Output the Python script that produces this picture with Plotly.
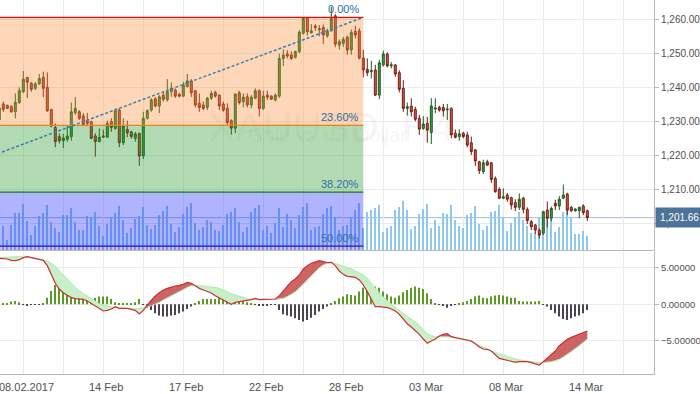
import plotly.graph_objects as go

# ---------------- data ----------------
opens = [1230.4,1235.1,1234.7,1234.3,1232.8,1235.5,1238.7,1242.9,1241.2,1239.7,
         1241.0,1242.9,1240.0,1233.5,1228.2,1225.5,1224.3,1224.7,1225.5,1232.5,
         1232.8,1231.6,1230.2,1229.9,1225.7,1224.0,1225.7,1225.3,1229.9,1227.9,
         1233.3,1223.7,1227.6,1226.9,1225.0,1226.5,1219.8,1230.9,1233.3,1236.6,
         1234.5,1237.7,1236.3,1238.7,1239.2,1237.9,1237.4,1240.2,1241.9,1239.0,
         1235.3,1234.8,1234.1,1236.8,1238.5,1237.7,1235.1,1233.8,1230.2,1228.0,
         1238.4,1235.8,1237.2,1234.8,1236.8,1239.0,1233.8,1237.7,1237.4,1236.3,
         1237.4,1248.5,1249.8,1249.5,1248.8,1250.5,1255.9,1260.3,1256.0,1258.0,
         1256.9,1257.6,1255.1,1256.6,1261.0,1252.4,1252.9,1254.7,1251.0,1256.4,
         1256.6,1248.6,1245.3,1244.6,1245.1,1237.7,1246.6,1249.8,1246.3,1246.6,
         1244.3,1239.7,1233.8,1234.5,1233.5,1230.9,1227.9,1229.4,1226.7,1233.6,
         1234.1,1234.1,1233.4,1233.8,1226.5,1225.5,1226.5,1226.0,1223.7,1221.6,
         1218.1,1215.2,1218.1,1217.8,1213.2,1210.0,1207.4,1208.3,1207.6,1206.1,
         1204.7,1207.4,1204.1,1200.5,1199.5,1198.0,1197.1,1203.9,1201.5,1205.9,
         1205.1,1207.4,1208.6,1204.7,1203.7,1203.7,1205.1,1203.7]
highs = [1234.5,1235.8,1234.9,1234.8,1238.2,1240.0,1244.8,1243.0,1241.6,1241.6,
         1243.9,1244.6,1244.4,1233.7,1229.4,1226.5,1226.3,1228.6,1235.5,1237.1,
         1233.3,1232.4,1232.5,1230.2,1226.5,1227.9,1227.5,1230.2,1230.9,1233.8,
         1233.8,1230.9,1230.2,1227.2,1226.9,1226.6,1232.8,1233.5,1236.8,1237.1,
         1237.7,1238.7,1242.4,1241.4,1239.7,1238.4,1241.6,1243.9,1242.4,1239.2,
         1238.2,1235.8,1237.2,1239.0,1239.0,1238.0,1235.8,1235.3,1230.6,1238.2,
         1239.0,1238.2,1238.2,1237.7,1239.7,1239.4,1239.0,1239.0,1237.7,1238.2,
         1249.9,1251.2,1250.9,1250.6,1250.8,1256.8,1260.6,1260.6,1258.6,1258.6,
         1258.3,1258.4,1257.3,1263.7,1261.5,1254.1,1254.8,1255.2,1257.0,1258.1,
         1257.4,1251.0,1248.5,1247.8,1246.6,1248.1,1250.8,1250.3,1247.4,1246.7,
         1245.0,1242.1,1235.5,1236.8,1234.3,1231.9,1231.5,1231.3,1236.8,1236.8,
         1234.6,1235.1,1235.1,1234.1,1227.6,1227.6,1226.9,1226.9,1225.5,1221.8,
         1218.4,1218.7,1218.7,1218.0,1213.8,1210.6,1210.3,1208.9,1207.8,1207.1,
         1208.8,1207.8,1204.7,1201.0,1199.8,1198.5,1203.7,1206.4,1204.9,1206.9,
         1208.0,1211.4,1209.0,1205.1,1204.4,1204.9,1205.6,1204.0]
lows = [1230.0,1232.8,1233.6,1232.5,1230.9,1235.1,1238.3,1236.9,1238.7,1239.2,
        1240.7,1237.1,1232.8,1228.2,1222.4,1223.5,1222.1,1224.0,1224.3,1231.9,
        1230.4,1228.6,1228.6,1224.7,1219.6,1224.0,1225.2,1225.3,1226.9,1227.6,
        1222.4,1223.0,1225.3,1224.9,1224.0,1216.9,1218.9,1230.5,1232.8,1234.1,
        1232.4,1235.8,1235.8,1237.2,1236.9,1237.0,1237.1,1240.0,1237.2,1234.1,
        1232.8,1233.3,1233.3,1236.3,1237.0,1233.3,1232.8,1228.9,1226.1,1226.6,
        1234.9,1234.1,1234.1,1233.8,1236.5,1231.4,1233.3,1236.3,1236.3,1235.8,
        1236.9,1246.3,1248.5,1248.0,1248.5,1250.0,1255.5,1255.2,1255.9,1256.6,
        1255.0,1252.8,1254.6,1256.4,1251.8,1251.1,1251.9,1249.6,1249.6,1254.4,
        1248.2,1242.9,1243.3,1242.6,1237.4,1236.5,1246.1,1245.8,1245.6,1243.1,
        1238.5,1232.8,1231.7,1231.4,1230.0,1226.0,1227.5,1223.7,1223.3,1232.4,
        1232.8,1231.4,1230.4,1225.0,1225.0,1224.3,1225.0,1222.4,1220.1,1216.9,
        1214.5,1214.5,1216.9,1211.9,1209.0,1207.1,1207.1,1206.3,1204.1,1203.6,
        1203.9,1202.9,1199.8,1198.0,1196.9,1195.6,1196.6,1198.8,1200.6,1203.9,
        1203.9,1207.1,1202.4,1203.4,1203.4,1201.5,1202.4,1200.7]
closes = [1233.9,1233.5,1233.8,1232.8,1235.6,1239.0,1242.4,1241.5,1239.4,1241.0,
          1242.6,1239.7,1233.1,1228.6,1224.0,1224.3,1225.1,1225.7,1232.8,1233.8,
          1230.9,1228.9,1229.4,1225.0,1224.0,1225.3,1225.4,1229.4,1228.2,1233.1,
          1223.7,1228.6,1226.6,1225.5,1226.3,1219.8,1230.9,1233.1,1236.3,1234.5,
          1237.2,1236.5,1238.7,1239.7,1237.4,1237.4,1240.7,1241.9,1238.4,1234.8,
          1234.1,1233.8,1236.8,1238.2,1237.4,1234.5,1233.3,1229.6,1228.0,1238.0,
          1235.5,1237.1,1234.8,1237.1,1239.0,1233.8,1237.4,1237.1,1236.5,1237.7,
          1248.5,1249.5,1249.2,1248.5,1250.5,1256.2,1260.3,1256.4,1256.6,1257.6,
          1257.3,1255.4,1256.6,1260.3,1252.7,1253.4,1254.1,1251.0,1256.1,1255.4,
          1248.6,1245.1,1244.3,1244.9,1237.7,1247.2,1249.8,1246.3,1246.6,1243.9,
          1239.4,1233.8,1234.3,1232.8,1230.6,1227.7,1229.2,1227.4,1234.5,1233.9,
          1233.3,1233.1,1233.6,1226.0,1225.3,1226.3,1225.5,1223.0,1221.1,1218.3,
          1215.5,1217.8,1217.1,1212.9,1209.3,1207.4,1207.8,1207.1,1205.4,1204.7,
          1207.1,1204.1,1200.8,1199.0,1198.0,1196.5,1203.4,1201.5,1204.4,1205.1,
          1207.1,1208.3,1203.9,1203.7,1204.2,1204.7,1203.1,1201.66]
volumes = [24,24,10,25,37,37,46,29,15,24,34,37,45,28,22,18,35,35,42,28,
           20,20,34,33,38,24,14,26,33,37,44,30,17,22,31,34,43,25,21,25,
           35,39,44,26,18,23,36,43,47,27,20,23,30,28,20,19,25,36,38,42,
           28,18,23,38,42,45,20,24,17,27,42,23,36,30,22,35,43,47,20,23,
           24,36,42,44,33,20,24,25,32,40,47,22,38,40,42,45,18,22,24,40,
           43,49,40,21,24,36,41,46,22,30,24,37,36,45,30,24,22,35,37,44,
           26,20,24,38,39,45,33,19,27,33,38,30,24,17,17,33,28,38,31,18,
           23,38,43,33,16,16,19,14]
macd = [6.29,6.25,6.20,6.02,5.97,6.11,6.39,6.52,6.39,6.29,6.20,6.02,5.29,4.10,2.87,2.09,
        1.59,1.23,0.91,0.77,0.72,0.68,0.45,0.08,-0.28,-0.65,-0.92,-0.83,-0.65,-0.33,
        -0.56,-0.56,-0.56,-0.69,-0.83,-1.33,-0.83,-0.10,0.59,1.13,1.59,1.96,2.18,2.37,
        2.50,2.59,2.73,3.01,2.87,2.55,2.18,1.96,1.77,1.54,1.18,0.91,0.59,0.27,-0.01,
        0.27,0.36,0.40,0.49,0.63,0.81,0.63,0.68,0.72,0.72,0.72,1.18,1.82,2.55,3.10,
        3.46,4.01,4.83,5.29,5.61,5.84,5.97,5.84,5.70,5.75,5.29,4.56,4.10,3.83,3.78,
        3.69,3.33,2.64,1.73,0.59,-0.33,-0.33,-0.37,-0.46,-0.65,-0.92,-1.38,-2.02,
        -2.66,-3.11,-3.57,-4.12,-4.76,-5.35,-5.03,-4.76,-4.35,-4.12,-4.03,-4.44,-4.57,
        -4.67,-4.76,-4.85,-5.03,-5.40,-5.85,-6.13,-6.17,-6.40,-6.95,-7.41,-7.54,-7.68,
        -7.86,-7.95,-7.86,-7.86,-7.86,-8.00,-8.18,-8.32,-7.86,-7.41,-6.95,-6.40,-5.67,
        -5.21,-4.80,-4.53,-4.30,-4.07,-3.84,-3.66]
signal = [6.39,6.39,6.43,6.48,6.52,6.52,6.52,6.48,6.39,6.29,6.16,6.07,5.93,5.61,5.20,4.56,
          4.01,3.42,2.82,2.28,1.82,1.45,1.09,0.72,0.45,0.08,-0.10,-0.28,-0.37,-0.46,
          -0.51,-0.56,-0.56,-0.60,-0.65,-0.60,-0.51,-0.37,-0.19,-0.01,0.27,0.59,0.91,
          1.18,1.45,1.73,2.05,2.32,2.55,2.59,2.55,2.50,2.46,2.41,2.32,2.18,2.00,1.73,
          1.45,1.27,1.04,0.91,0.77,0.68,0.63,0.63,0.63,0.63,0.68,0.68,0.68,0.81,1.04,
          1.36,1.73,2.18,2.73,3.33,3.92,4.47,5.01,5.38,5.65,5.75,5.61,5.47,5.24,5.01,
          4.88,4.56,4.28,4.01,3.55,2.87,2.18,1.50,0.95,0.49,0.04,-0.46,-0.88,-1.29,
          -1.65,-2.02,-2.38,-2.84,-3.48,-4.03,-4.30,-4.44,-4.44,-4.44,-4.44,-4.48,-4.57,
          -4.67,-4.76,-4.89,-5.12,-5.40,-5.67,-5.85,-6.13,-6.40,-6.58,-6.77,-6.99,-7.22,
          -7.36,-7.50,-7.63,-7.72,-7.82,-7.91,-7.95,-8.00,-8.00,-7.95,-7.86,-7.72,-7.54,
          -7.22,-6.86,-6.49,-6.08,-5.67,-5.21,-4.76]
hist = [0.05,0.09,0.18,0.37,0.46,0.27,-0.09,-0.18,-0.09,-0.09,-0.05,0.09,0.91,1.83,2.65,3.33,
        3.42,3.20,2.56,1.83,1.28,0.73,0.59,0.73,0.91,1.05,1.05,1.05,0.73,0.27,0.14,0.14,
        0.14,0.14,0.27,0.73,-0.05,-0.46,-0.78,-1.23,-1.55,-1.69,-1.69,-1.55,-1.46,-1.23,
        -1.00,-0.64,-0.32,0.10,0.46,0.73,0.73,0.73,0.73,0.82,0.82,1.05,1.37,0.91,0.59,
        0.46,0.27,0.14,-0.09,-0.18,-0.18,-0.18,-0.09,-0.09,-0.78,-1.37,-1.55,-1.69,-1.92,
        -2.15,-2.37,-2.15,-1.83,-1.46,-1.00,-0.64,-0.32,0.05,0.46,0.82,1.05,1.37,1.28,
        1.19,1.74,2.28,2.42,2.74,2.42,2.28,1.74,1.37,1.05,0.91,1.19,1.64,1.96,2.28,2.42,
        2.28,2.10,1.51,0.73,0.14,-0.05,-0.18,-0.46,-0.18,-0.05,0.09,0.27,0.46,0.73,1.05,
        1.19,0.91,0.82,1.05,1.19,1.28,1.19,1.05,0.91,0.91,0.46,0.37,0.37,0.37,0.37,0.46,
        -0.05,-0.32,-0.78,-1.23,-1.69,-2.01,-2.15,-1.92,-1.69,-1.55,-1.23,-0.78]
x_idx = list(range(len(closes)))

tick_idx = [6, 26, 46, 66, 86, 106, 126, 146]
tick_labels = ["08.02.2017", "14 Feb", "17 Feb", "22 Feb", "28 Feb", "03 Mar", "08 Mar", "14 Mar"]
grid_idx = list(range(6, 160, 10))

fib_high = 1260.57
fib_low = 1125.97
fib_start_idx = -216
fib_end_idx = 91
fib_levels = [0.0, 23.6, 38.2, 50.0, 61.8]
fib_labels = ["0.00%", "23.60%", "38.20%", "50.00%"]

# ---------------- styling ----------------
FONT = "Liberation Sans"
zone_colors = ["rgb(250,140,50)", "rgb(38,152,38)", "rgb(29,41,255)", "rgb(110,55,155)"]
level_colors = ["#e01010", "#f08018", "#17771a", "#1414dc"]
GRID = "#ebebeb"
AXIS = "#b8b8b8"

fig = go.Figure()

# volume (base axis y, drawn below the candles)
fig.add_trace(go.Bar(x=x_idx, y=volumes, width=0.25, marker=dict(color="#8ec8ec", line=dict(width=0)),
                     xaxis="x", yaxis="y", hoverinfo="skip"))

# candles
fig.add_trace(go.Candlestick(
    x=x_idx, open=opens, high=highs, low=lows, close=closes, xaxis="x", yaxis="y3",
    increasing=dict(line=dict(color="#1d5c1d", width=1), fillcolor="#3a9d4c"),
    decreasing=dict(line=dict(color="#6e1f14", width=1), fillcolor="#da5a46"),
    whiskerwidth=0, hoverinfo="skip"))

# MACD cloud fills (runs between crossings)
runs = []
cur = None
xs, ms, ss = [], [], []
for k in range(len(macd)):
    d = macd[k] - signal[k]
    sgn = d >= 0
    if k == 0:
        cur = sgn
        xs, ms, ss = [x_idx[k]], [macd[k]], [signal[k]]
        continue
    if sgn != cur:
        dp = macd[k - 1] - signal[k - 1]
        t = dp / (dp - d)
        xc = x_idx[k - 1] + t * (x_idx[k] - x_idx[k - 1])
        yc = macd[k - 1] + t * (macd[k] - macd[k - 1])
        xs.append(xc); ms.append(yc); ss.append(yc)
        runs.append((cur, xs, ms, ss))
        cur = sgn
        xs, ms, ss = [xc], [yc], [yc]
    xs.append(x_idx[k]); ms.append(macd[k]); ss.append(signal[k])
runs.append((cur, xs, ms, ss))

red_x, red_y, grn_x, grn_y = [], [], [], []
for sgn, rx, rm, rs in runs:
    px = rx + rx[::-1] + [None]
    py = rm + rs[::-1] + [None]
    if sgn:
        red_x += px; red_y += py
    else:
        grn_x += px; grn_y += py

fig.add_trace(go.Scatter(x=grn_x, y=grn_y, fill="toself", fillcolor="rgb(200,240,200)",
                         line=dict(width=0), mode="lines", xaxis="x2", yaxis="y2", hoverinfo="skip"))
fig.add_trace(go.Scatter(x=red_x, y=red_y, fill="toself", fillcolor="rgb(205,100,100)",
                         line=dict(width=0), mode="lines", xaxis="x2", yaxis="y2", hoverinfo="skip"))

hist_colors = ["#5b9a20" if v >= 0 else "#4b4452" for v in hist]
fig.add_trace(go.Bar(x=x_idx, y=hist, width=0.25, marker=dict(color=hist_colors, line=dict(width=0)),
                     xaxis="x2", yaxis="y2", hoverinfo="skip"))
fig.add_trace(go.Scatter(x=x_idx, y=signal, mode="lines", line=dict(color="#b4e6b4", width=1),
                         xaxis="x2", yaxis="y2", hoverinfo="skip"))
fig.add_trace(go.Scatter(x=x_idx, y=macd, mode="lines", line=dict(color="#cc3030", width=1.2),
                         xaxis="x2", yaxis="y2", hoverinfo="skip"))

# ---------------- shapes ----------------
fib_prices = [fib_high - (fib_high - fib_low) * lv / 100.0 for lv in fib_levels]
shapes = []
shapes.append(dict(type="line", xref="paper", x0=0, x1=1, yref="y3", y0=closes[-1], y1=closes[-1],
                   line=dict(color="#a9bcd4", width=1), layer="below"))
for z in range(len(fib_prices) - 1):
    shapes.append(dict(type="rect", xref="x", yref="y3", x0=fib_start_idx, x1=fib_end_idx,
                       y0=fib_prices[z + 1], y1=fib_prices[z], fillcolor=zone_colors[z],
                       opacity=0.35, line=dict(width=0), layer="above"))
for z in range(len(fib_labels)):
    shapes.append(dict(type="line", xref="x", yref="y3", x0=fib_start_idx, x1=fib_end_idx,
                       y0=fib_prices[z], y1=fib_prices[z], line=dict(color=level_colors[z], width=1.3),
                       layer="above"))
shapes.append(dict(type="line", xref="x", yref="y3", x0=fib_start_idx, x1=fib_end_idx,
                   y0=fib_low, y1=fib_high, line=dict(color="#3a80b4", width=1.5, dash="3px,2px"),
                   layer="above"))

annotations = [
    dict(text="XAUUSD, H4", xref="paper", yref="paper", x=0.506, y=0.727, showarrow=False,
         font=dict(family=FONT, size=41, color="rgba(120,120,120,0.07)")),
    dict(text="Gold vs US Dollar", xref="paper", yref="paper", x=0.5, y=0.639, showarrow=False,
         font=dict(family=FONT, size=20, color="rgba(120,120,120,0.07)")),
]
for z, lab in enumerate(fib_labels):
    annotations.append(dict(text=lab, xref="x", yref="y3", x=fib_end_idx, y=fib_prices[z],
                            xanchor="right", yanchor="bottom", showarrow=False, xshift=-2,
                            font=dict(family=FONT, size=11, color="#2f6ea5")))
annotations.append(dict(text=f"{closes[-1]:,.2f}", xref="paper", yref="y3", x=1, y=closes[-1],
                        xanchor="left", yanchor="middle", showarrow=False, xshift=1,
                        bgcolor="#4d7399", borderpad=4, font=dict(family=FONT, size=10, color="white")))
# date labels under the indicator panel
for ti, tl in zip(tick_idx, tick_labels):
    annotations.append(dict(text=tl, xref="x2", yref="paper", x=ti, y=0, yanchor="top",
                            xanchor="center", xshift=3, yshift=-5, showarrow=False,
                            font=dict(family=FONT, size=11, color="#505050")))

main_dom = [0.33155, 1.0]
macd_dom = [0.0, 0.3262]

fig.update_layout(
    width=700, height=394, margin=dict(l=0, r=46, t=0, b=20, autoexpand=False),
    paper_bgcolor="white", plot_bgcolor="white", showlegend=False, hovermode=False,
    barmode="overlay", font=dict(family=FONT, size=10, color="#505050"),
    xaxis=dict(domain=[0, 1], anchor="y", range=[0.175, 163.675], tickvals=grid_idx,
               showticklabels=False, showgrid=True, gridcolor=GRID, zeroline=False,
               showline=True, linecolor=AXIS, linewidth=1, rangeslider=dict(visible=False)),
    xaxis2=dict(domain=[0, 1], anchor="y2", matches="x", tickvals=grid_idx, showticklabels=False,
                showgrid=True, gridcolor=GRID, zeroline=False, showline=True, linecolor=AXIS,
                ticks="", rangeslider=dict(visible=False)),
    yaxis=dict(domain=main_dom, anchor="x", range=[0, 250], visible=False, showgrid=False),
    yaxis3=dict(domain=main_dom, overlaying="y", anchor="x", side="right",
                range=[1192.15, 1265.68], tick0=1200, dtick=10, tickformat=",.2f",
                showgrid=True, gridcolor=GRID, zeroline=False, showline=True, linecolor=AXIS,
                ticks="outside", ticklen=4, tickcolor=AXIS, automargin=False,
                tickfont=dict(family=FONT, size=10, color="#505050")),
    yaxis2=dict(domain=macd_dom, anchor="x2", side="right", range=[-9.55, 7.16],
                tickvals=[-5, 0, 5], tickformat=".5f", showgrid=True, gridcolor=GRID,
                zeroline=False, showline=True, linecolor=AXIS, ticks="outside", ticklen=4,
                tickcolor=AXIS, automargin=False,
                tickfont=dict(family=FONT, size=9.5, color="#505050")),
    shapes=shapes, annotations=annotations,
)

fig.write_html("out.html", config={"displayModeBar": False},
               post_script="document.body.style.margin='0';document.body.style.padding='0';")
